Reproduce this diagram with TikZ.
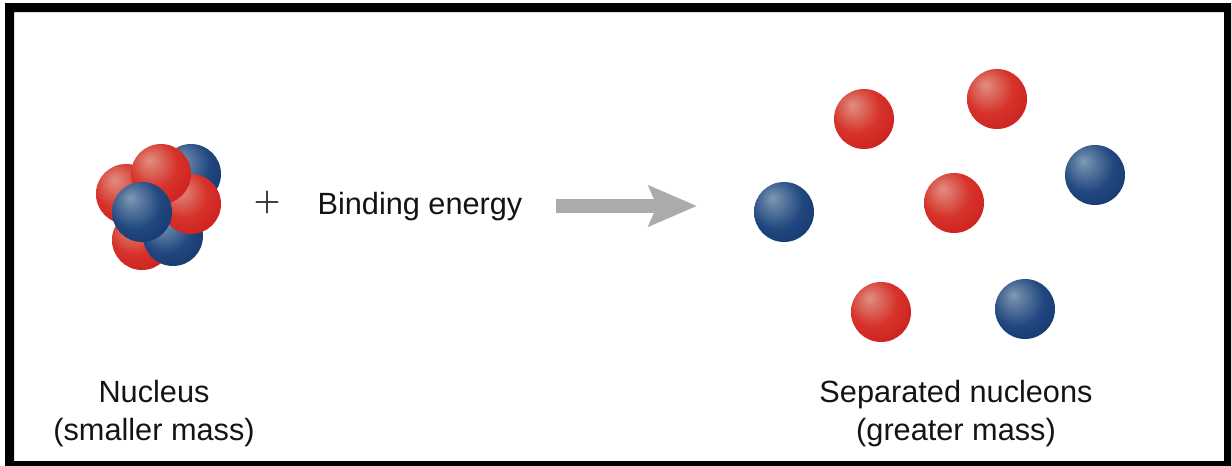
\documentclass[tikz,border=0pt]{standalone}
\usepackage{fontspec}
\setmainfont{Liberation Sans}
\usetikzlibrary{arrows.meta}
% Glossy sphere shadings with the highlight up and to the left
\pgfdeclareradialshading{redball}{\pgfpoint{-10bp}{12bp}}{%
  rgb(0bp)=(0.88,0.56,0.51);
  rgb(8bp)=(0.86,0.42,0.37);
  rgb(20bp)=(0.84,0.20,0.17);
  rgb(38bp)=(0.80,0.11,0.11);
  rgb(52bp)=(0.75,0.09,0.10);
  rgb(66bp)=(0.82,0.16,0.15)}
\pgfdeclareradialshading{blueball}{\pgfpoint{-10bp}{12bp}}{%
  rgb(0bp)=(0.50,0.60,0.71);
  rgb(8bp)=(0.36,0.48,0.63);
  rgb(22bp)=(0.13,0.28,0.50);
  rgb(40bp)=(0.07,0.20,0.41);
  rgb(52bp)=(0.06,0.17,0.36);
  rgb(66bp)=(0.09,0.23,0.45)}
\tikzset{
  ball/.style={circle,minimum size=60pt,inner sep=0pt,outer sep=0pt},
  proton/.style={ball,shading=redball},
  neutron/.style={ball,shading=blueball},
  label text/.style={font=\fontsize{30.7pt}{38pt}\selectfont,align=center,text=black!92},
  reaction arrow/.style={draw=black!33,line width=14pt,
    -{Stealth[length=48pt,width=40pt,inset=8pt,fill=black!33]}}
}
\begin{document}
\begin{tikzpicture}[x=1pt,y=-1pt]
  \useasboundingbox (0,0) rectangle (1232,466);
  \fill[white] (0,0) rectangle (1232,466);
  % Heavy frame
  \fill[black,even odd rule] (5,3) rectangle (1231,466) (14,12) rectangle (1224,461);

  % Bound nucleus, back to front
  \node[proton]  (n1) at (142,240) {};
  \node[neutron] (n2) at (173,236) {};
  \node[neutron] (n3) at (191,174) {};
  \node[proton]  (n4) at (126,194) {};
  \node[proton]  (n5) at (191,204) {};
  \node[proton]  (n6) at (161,174) {};
  \node[neutron] (n7) at (142,212) {};

  \node[font=\fontsize{36pt}{36pt}\selectfont,text=black!85] (plus) at (267,202)
    {\fontspec[FakeBold=1.2]{Latin Modern Roman}+};
  \node[label text,anchor=base] (energy) at (420,214.5) {Binding energy};

  \coordinate (tail) at (556,206);
  \coordinate (tip) at (697,206);
  \draw[reaction arrow] (tail) -- (tip);

  % Separated nucleons
  \node[proton]  (s1) at (864,119) {};
  \node[proton]  (s2) at (997,99) {};
  \node[proton]  (s3) at (954,203) {};
  \node[proton]  (s4) at (881,312) {};
  \node[neutron] (s5) at (784,212) {};
  \node[neutron] (s6) at (1095,175) {};
  \node[neutron] (s7) at (1025,309) {};

  \node[label text] (nucleus) at (154,414) {Nucleus\\(smaller mass)};
  \node[label text] (separated) at (956,414) {Separated nucleons\\(greater mass)};
\end{tikzpicture}
\end{document}
